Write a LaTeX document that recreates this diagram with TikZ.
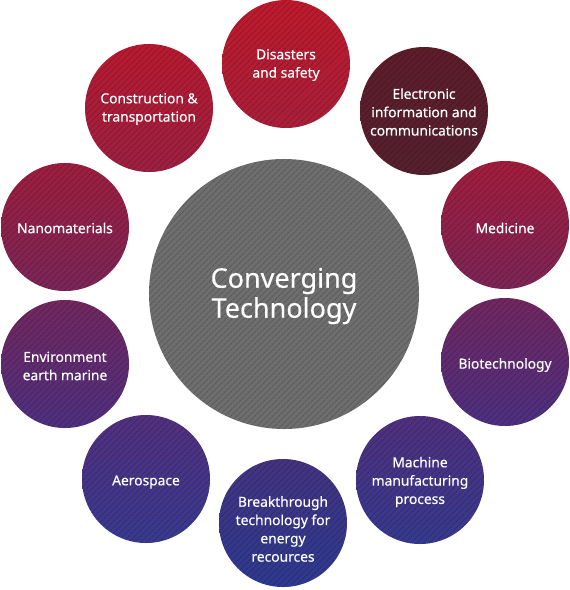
\documentclass[tikz,border=0pt]{standalone}
\usepackage{fontspec}
\setmainfont{Noto Sans}[FakeBold=0.4]
\usetikzlibrary{patterns.meta}
\definecolor{disT}{HTML}{BE1A2C}\definecolor{disB}{HTML}{A81F3A}
\definecolor{conT}{HTML}{B81A30}\definecolor{conB}{HTML}{9C2042}
\definecolor{eleT}{HTML}{5E1D2A}\definecolor{eleB}{HTML}{55202F}
\definecolor{medT}{HTML}{A21D3C}\definecolor{medB}{HTML}{7C2557}
\definecolor{nanT}{HTML}{9E1E3E}\definecolor{nanB}{HTML}{7A2658}
\definecolor{envT}{HTML}{72275E}\definecolor{envB}{HTML}{4E3080}
\definecolor{bioT}{HTML}{72275F}\definecolor{bioB}{HTML}{4C3081}
\definecolor{aerT}{HTML}{52307E}\definecolor{aerB}{HTML}{383A8F}
\definecolor{macT}{HTML}{50307E}\definecolor{macB}{HTML}{363A8E}
\definecolor{brkT}{HTML}{443380}\definecolor{brkB}{HTML}{2D3A90}
\definecolor{hubC}{HTML}{6E6E6E}
\begin{document}
\begin{tikzpicture}[x=1pt,y=-1pt,
  hatch/.style={postaction={fill opacity=0.18,pattern={Lines[angle=45,distance=4pt,line width=1.1pt]},pattern color=black}},
  bubble/.style 2 args={circle,minimum size=128pt,inner sep=0pt,top color=#1,bottom color=#2,draw=none,hatch},
  btext/.style={text=white,align=center,font=\fontsize{13.8}{18.3}\selectfont},
  hub/.style={circle,minimum size=270pt,inner sep=0pt,fill=hubC,draw=none,hatch},
  htext/.style={text=white,align=center,font=\fontsize{27}{30}\selectfont}]
\useasboundingbox (0,0) rectangle (570,590);
\node[hub] (hubnode) at (284,294) {};
\node[htext] (hubtext) at ([yshift=-2pt]hubnode.center) {Converging\\Technology};
\node[bubble={disT}{disB}] (dis) at (286,64) {};
\node[bubble={eleT}{eleB}] (ele) at (424,111) {};
\node[bubble={medT}{medB}] (med) at (505,225) {};
\node[bubble={bioT}{bioB}] (bio) at (505,362) {};
\node[bubble={macT}{macB}] (mac) at (420,480) {};
\node[bubble={brkT}{brkB}] (brk) at (283,523) {};
\node[bubble={aerT}{aerB}] (aer) at (146,479) {};
\node[bubble={envT}{envB}] (env) at (65,364) {};
\node[bubble={nanT}{nanB}] (nan) at (65,227) {};
\node[bubble={conT}{conB}] (con) at (149,108) {};
\node[btext] (disl) at ([yshift=-1pt]dis.center) {Disasters\\and safety};
\node[btext] (elel) at ([yshift=-1pt]ele.center) {Electronic\\information and\\communications};
\node[btext] (medl) at ([yshift=-3pt]med.center) {Medicine};
\node[btext] (biol) at ([yshift=-3pt]bio.center) {Biotechnology};
\node[btext] (macl) at ([yshift=-2pt]mac.center) {Machine\\manufacturing\\process};
\node[btext] (brkl) at ([yshift=-6pt]brk.center) {Breakthrough\\technology for\\energy\\recources};
\node[btext] (aerl) at ([yshift=-3pt]aer.center) {Aerospace};
\node[btext] (envl) at ([yshift=-2pt]env.center) {Environment\\earth marine};
\node[btext] (nanl) at ([yshift=-1pt]nan.center) {Nanomaterials};
\node[btext] (conl) at ([yshift=-1pt]con.center) {Construction \&\\transportation};
\end{tikzpicture}
\end{document}
